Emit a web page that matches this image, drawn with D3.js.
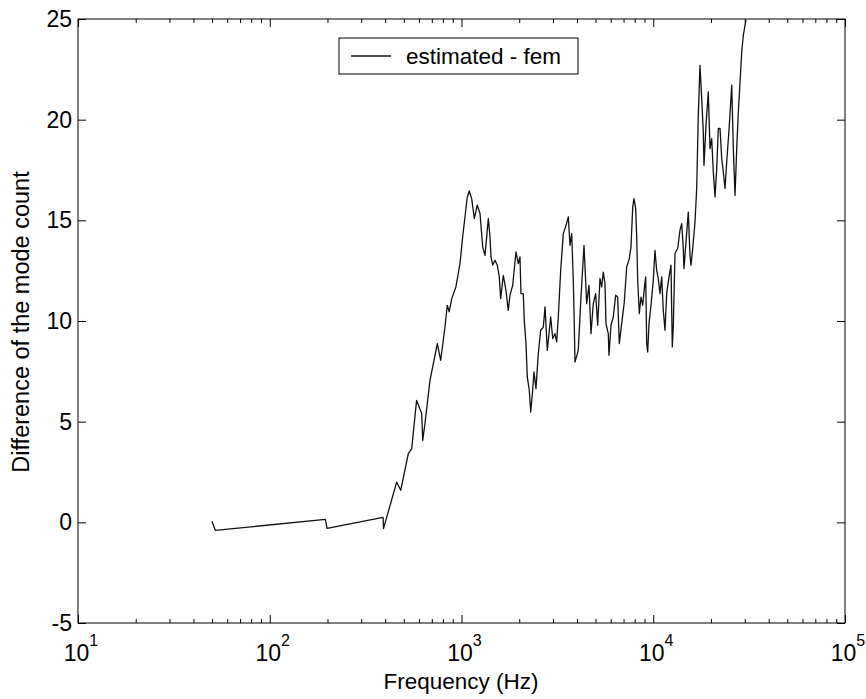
<!DOCTYPE html>
<html>
<head>
<meta charset="utf-8">
<script src="https://cdn.jsdelivr.net/npm/d3@7"></script>
<style>
  html, body { margin: 0; padding: 0; background: #fff; }
  svg { display: block; }
  text { font-family: "Liberation Sans", Arial, Helvetica, sans-serif; fill: #000; }
</style>
</head>
<body>
<svg id="chart" width="866" height="699"></svg>
<script>
// ---- data ----
const freqHz = [50, 52, 195, 199, 390, 392, 459, 482, 528, 550, 583, 620, 628, 645, 685, 748, 779, 820, 843, 863, 889, 935, 982, 1014, 1072, 1098, 1130, 1166, 1208, 1249, 1290, 1326, 1380, 1408, 1425, 1455, 1495, 1537, 1574, 1601, 1652, 1700, 1754, 1790, 1849, 1924, 1978, 2018, 2043, 2100, 2125, 2169, 2203, 2257, 2295, 2351, 2388, 2446, 2515, 2588, 2671, 2726, 2802, 2919, 2990, 3073, 3136, 3197, 3291, 3396, 3508, 3606, 3680, 3756, 3828, 3861, 3907, 4064, 4198, 4354, 4497, 4623, 4735, 4867, 5009, 5131, 5275, 5383, 5488, 5601, 5669, 5828, 5876, 6020, 6188, 6369, 6523, 6651, 6845, 7063, 7269, 7500, 7655, 7813, 7935, 8099, 8197, 8296, 8458, 8630, 8810, 8982, 9134, 9244, 9355, 9502, 9731, 10005, 10211, 10421, 10624, 10842, 11066, 11281, 11514, 11752, 12081, 12374, 12570, 12721, 12984, 13410, 13785, 14070, 14342, 14465, 14816, 15231, 15546, 15733, 16059, 16509, 16847, 17176, 17528, 17890, 18239, 18391, 18840, 19368, 19770, 20175, 20569, 20994, 21429, 21843, 22295, 22751, 23195, 23675, 24160, 24929, 25658, 26159, 26695, 27247, 27779, 28348, 28934, 29494, 30104, 30467];
const modeDiff = [0.05, -0.4, 0.15, -0.3, 0.25, -0.31, 2.0, 1.59, 3.41, 3.66, 6.06, 5.40, 4.07, 4.92, 7.05, 8.88, 8.05, 9.70, 10.78, 10.45, 11.11, 11.69, 12.85, 14.17, 16.16, 16.46, 16.08, 15.09, 15.75, 15.34, 13.68, 13.26, 15.09, 14.17, 13.18, 12.77, 13.02, 12.77, 12.19, 11.11, 12.27, 11.61, 10.53, 11.28, 11.77, 13.43, 12.85, 13.18, 11.36, 11.36, 10.03, 8.88, 7.22, 6.56, 5.48, 6.56, 7.47, 6.64, 8.38, 9.54, 9.70, 10.70, 8.54, 10.20, 9.13, 9.37, 8.96, 10.20, 12.52, 14.34, 14.75, 15.17, 13.76, 14.34, 12.02, 10.53, 7.96, 8.54, 11.19, 13.76, 10.86, 11.77, 9.37, 10.86, 11.36, 9.79, 12.11, 11.69, 12.43, 11.86, 9.87, 9.37, 8.30, 9.79, 10.20, 11.28, 11.19, 8.88, 9.87, 10.94, 12.68, 13.10, 13.68, 15.66, 16.08, 15.58, 14.17, 12.02, 10.37, 11.19, 10.78, 11.61, 12.19, 8.88, 8.46, 9.87, 10.78, 12.02, 13.51, 12.52, 12.11, 11.36, 12.19, 10.53, 9.54, 11.36, 12.19, 12.77, 8.71, 9.70, 13.35, 13.60, 14.51, 14.84, 13.60, 12.60, 13.92, 15.41, 13.26, 12.77, 13.60, 14.92, 16.58, 20.22, 22.70, 21.05, 19.39, 17.73, 19.72, 21.38, 18.56, 19.06, 17.40, 16.16, 17.57, 19.56, 19.56, 18.07, 17.40, 16.58, 17.90, 19.72, 21.71, 18.56, 16.24, 18.56, 20.38, 21.87, 23.36, 24.19, 24.69, 24.94];
const xMajorTicks = [10, 100, 1000, 10000, 100000];
const xTickExponents = ["1", "2", "3", "4", "5"];
const yTicks = [-5, 0, 5, 10, 15, 20, 25];
const seriesName = "estimated - fem";
const xTitle = "Frequency (Hz)";
const yTitle = "Difference of the mode count";

// ---- layout ----
const L = 78, R = 845, T = 19, B = 623;
const svg = d3.select("#chart");
const x = d3.scaleLog().domain([10, 100000]).range([L, R]);
const y = d3.scaleLinear().domain([-5, 25]).range([B, T]);

const minorTicks = [];
for (let d = 10; d < 100000; d *= 10) for (let k = 2; k <= 9; k++) minorTicks.push(d * k);

function styleAxis(g) {
  g.select(".domain").remove();
  g.selectAll(".tick line").attr("stroke", "#000").attr("stroke-width", 1);
}

// major & minor ticks on all four sides (inward)
svg.append("g").attr("transform", `translate(0,${B})`)
  .call(d3.axisBottom(x).tickValues(xMajorTicks).tickSize(-8).tickFormat("")).call(styleAxis);
svg.append("g").attr("transform", `translate(0,${B})`)
  .call(d3.axisBottom(x).tickValues(minorTicks).tickSize(-4).tickFormat("")).call(styleAxis);
svg.append("g").attr("transform", `translate(0,${T})`)
  .call(d3.axisTop(x).tickValues(xMajorTicks).tickSize(-8).tickFormat("")).call(styleAxis);
svg.append("g").attr("transform", `translate(0,${T})`)
  .call(d3.axisTop(x).tickValues(minorTicks).tickSize(-4).tickFormat("")).call(styleAxis);

const yAxisG = svg.append("g").attr("transform", `translate(${L},0)`)
  .call(d3.axisLeft(y).tickValues(yTicks).tickSize(-8).tickPadding(6).tickFormat(d => String(d)));
yAxisG.call(styleAxis);
yAxisG.selectAll("text").attr("font-size", 23).attr("font-family", "Liberation Sans, Arial, sans-serif").attr("fill", "#000");
svg.append("g").attr("transform", `translate(${R},0)`)
  .call(d3.axisRight(y).tickValues(yTicks).tickSize(-8).tickFormat("")).call(styleAxis);

// x tick labels 10^n
const xl = svg.append("g");
xMajorTicks.forEach((v, i) => {
  const t = xl.append("text").attr("x", x(v) + 3).attr("y", 661)
    .attr("text-anchor", "middle").attr("font-size", 23);
  t.append("tspan").text("10");
  t.append("tspan").attr("dy", -15).attr("font-size", 16).text(xTickExponents[i]);
});

// frame
svg.append("rect").attr("x", L).attr("y", T).attr("width", R - L).attr("height", B - T)
  .attr("fill", "none").attr("stroke", "#000").attr("stroke-width", 1);

// series line
const pts = freqHz.map((f, i) => [f, modeDiff[i]]);
svg.append("path").datum(pts)
  .attr("fill", "none").attr("stroke", "#111").attr("stroke-width", 1.3)
  .attr("stroke-linejoin", "round")
  .attr("d", d3.line().x(d => x(d[0])).y(d => y(d[1])));

// titles
svg.append("text").attr("x", 461).attr("y", 689).attr("text-anchor", "middle")
  .attr("font-size", 22.5).text(xTitle);
svg.append("text").attr("transform", "translate(29,322) rotate(-90)")
  .attr("text-anchor", "middle").attr("font-size", 23.5).text(yTitle);

// legend
const lg = svg.append("g");
lg.append("rect").attr("x", 339).attr("y", 38).attr("width", 239).attr("height", 36)
  .attr("fill", "#fff").attr("stroke", "#000").attr("stroke-width", 1);
lg.append("line").attr("x1", 351).attr("x2", 391).attr("y1", 56).attr("y2", 56)
  .attr("stroke", "#111").attr("stroke-width", 1.3);
lg.append("text").attr("x", 406).attr("y", 64).attr("font-size", 22.5).text(seriesName);
</script>
</body>
</html>
